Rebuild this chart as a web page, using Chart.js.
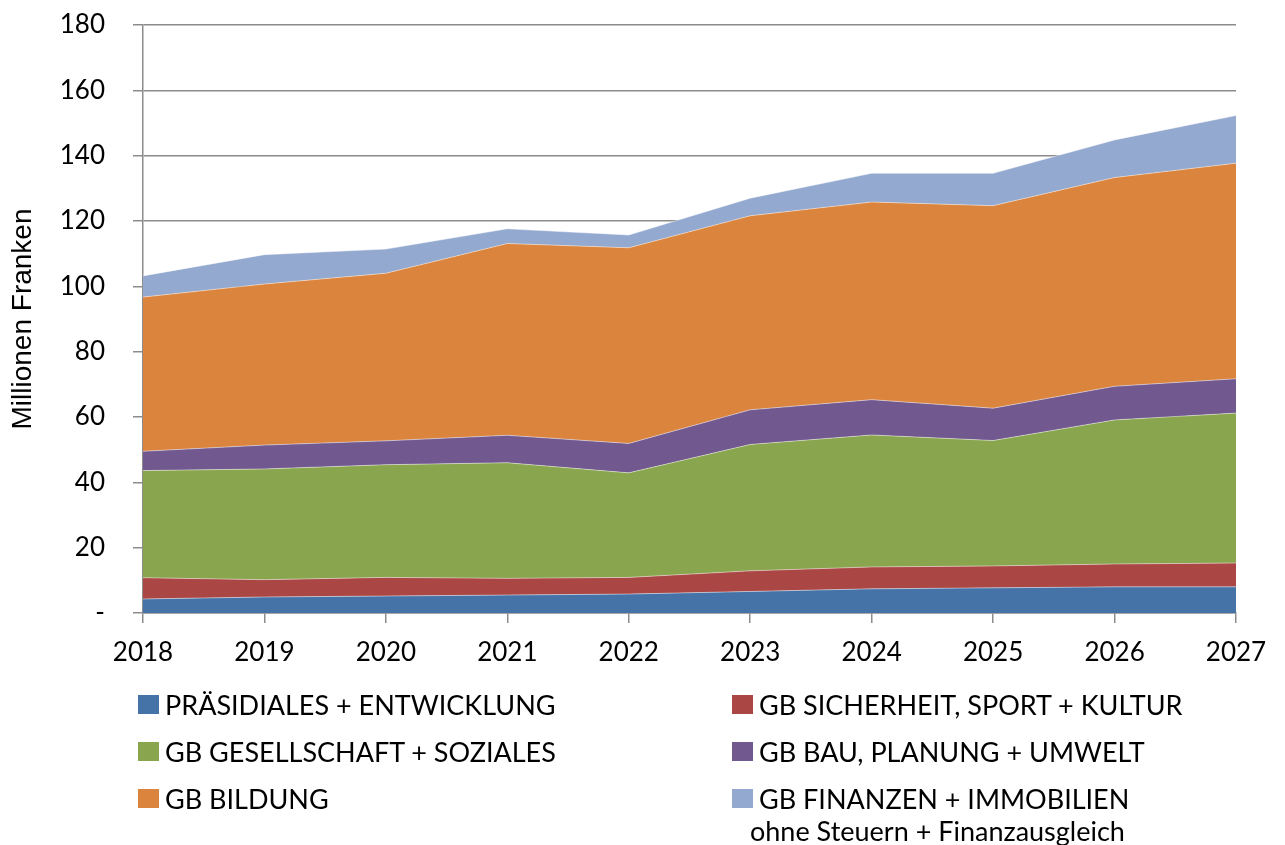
<!DOCTYPE html>
<html>
<head>
<meta charset="utf-8">
<script src="https://cdn.jsdelivr.net/npm/chart.js@4.4.0/dist/chart.umd.min.js"></script>
<style>
  html, body { margin: 0; padding: 0; background: #fff; }
  #wrap { position: relative; width: 1285px; height: 845px; }
  #c { position: absolute; left: 0; top: 0; }
  .lg { position: absolute; font-family: Lato, sans-serif; font-size: 27px; color: #000; white-space: nowrap; line-height: 1; }
  .sw { position: absolute; width: 21px; height: 19px; }
</style>
</head>
<body>
<div id="wrap">
  <canvas id="c" width="1285" height="845"></canvas>
  <div id="legend"></div>
</div>
<script>
const years = ['2018','2019','2020','2021','2022','2023','2024','2025','2026','2027'];
const yTicks = [0, 20, 40, 60, 80, 100, 120, 140, 160, 180];

const praesidiales = [4.3, 4.9, 5.2, 5.5, 5.8, 6.6, 7.4, 7.7, 8.0, 8.0];
const sicherheit   = [6.5, 5.3, 5.7, 5.1, 5.1, 6.3, 6.7, 6.7, 7.0, 7.3];
const gesellschaft = [32.8, 33.9, 34.5, 35.4, 32.0, 38.7, 40.4, 38.4, 44.1, 45.9];
const bau          = [5.9, 7.3, 7.3, 8.4, 9.0, 10.6, 10.8, 9.9, 10.3, 10.5];
const bildung      = [47.2, 49.3, 51.3, 58.7, 59.9, 59.4, 60.5, 62.0, 63.9, 66.0];
const finanzen     = [6.5, 9.0, 7.4, 4.5, 3.9, 5.4, 8.8, 9.9, 11.5, 14.6];

const seriesNames = [
  'PRÄSIDIALES + ENTWICKLUNG',
  'GB SICHERHEIT, SPORT + KULTUR',
  'GB GESELLSCHAFT + SOZIALES',
  'GB BAU, PLANUNG + UMWELT',
  'GB BILDUNG',
  'GB FINANZEN + IMMOBILIEN'
];
const seriesNote = 'ohne Steuern + Finanzausgleich';
const colors = ['#4572A7', '#AA4643', '#89A54E', '#71588F', '#DB843D', '#93A9CF'];
const seriesData = [praesidiales, sicherheit, gesellschaft, bau, bildung, finanzen];

const datasets = seriesData.map((d, i) => ({
  label: seriesNames[i],
  data: d,
  backgroundColor: colors[i],
  borderColor: 'rgba(255,255,255,0.45)',
  borderWidth: 1,
  pointRadius: 0,
  tension: 0,
  fill: i === 0 ? 'origin' : '-1'
}));

const tickFont = { family: 'Lato, sans-serif', size: 26 };

new Chart(document.getElementById('c'), {
  type: 'line',
  data: { labels: years, datasets },
  options: {
    responsive: false,
    animation: false,
    events: [],
    layout: { padding: { top: 25, right: 49, bottom: 176, left: 0 } },
    plugins: { legend: { display: false }, tooltip: { enabled: false } },
    scales: {
      x: {
        offset: false,
        grid: { drawOnChartArea: false, drawTicks: true, tickLength: 10, color: '#8c8c8c', lineWidth: 1.5 },
        border: { display: true, color: '#8c8c8c', width: 1.5 },
        ticks: { font: tickFont, color: '#000', padding: 14, maxRotation: 0, autoSkip: false },
        afterFit: (s) => { s.height = 56; s.paddingLeft = 0; s.paddingRight = 0; }
      },
      y: {
        stacked: true,
        min: 0, max: 180,
        afterBuildTicks: (s) => { s.ticks = yTicks.map(v => ({ value: v })); },
        grid: { color: '#8c8c8c', lineWidth: 1.5, tickLength: 10 },
        border: { display: true, color: '#8c8c8c', width: 1.5 },
        ticks: { font: tickFont, color: '#000', padding: 28, callback: (v) => v === 0 ? '-' : v },
        title: { display: true, text: 'Millionen Franken', font: { family: '"Liberation Sans", Arial, sans-serif', size: 28 }, color: '#000', padding: { top: 6, bottom: 0 } },
        afterFit: (s) => { s.width = 143; s.paddingTop = 0; s.paddingBottom = 0; }
      }
    }
  }
});

// HTML legend built from the series names/colors
const legend = document.getElementById('legend');
const legendPos = [
  { sx: 138, tx: 165, y: 705 },
  { sx: 732, tx: 759, y: 705 },
  { sx: 138, tx: 165, y: 752 },
  { sx: 732, tx: 759, y: 752 },
  { sx: 138, tx: 165, y: 799 },
  { sx: 732, tx: 759, y: 799 }
];
seriesNames.forEach((name, i) => {
  const p = legendPos[i];
  const sw = document.createElement('div');
  sw.className = 'sw';
  sw.style.left = p.sx + 'px';
  sw.style.top = (p.y - 10) + 'px';
  sw.style.background = colors[i];
  legend.appendChild(sw);
  const t = document.createElement('div');
  t.className = 'lg';
  t.style.left = p.tx + 'px';
  t.style.top = (p.y - 14) + 'px';
  t.textContent = name;
  legend.appendChild(t);
});
const note = document.createElement('div');
note.className = 'lg';
note.style.left = '750px';
note.style.top = (831 - 14) + 'px';
note.textContent = seriesNote;
legend.appendChild(note);
</script>
</body>
</html>
